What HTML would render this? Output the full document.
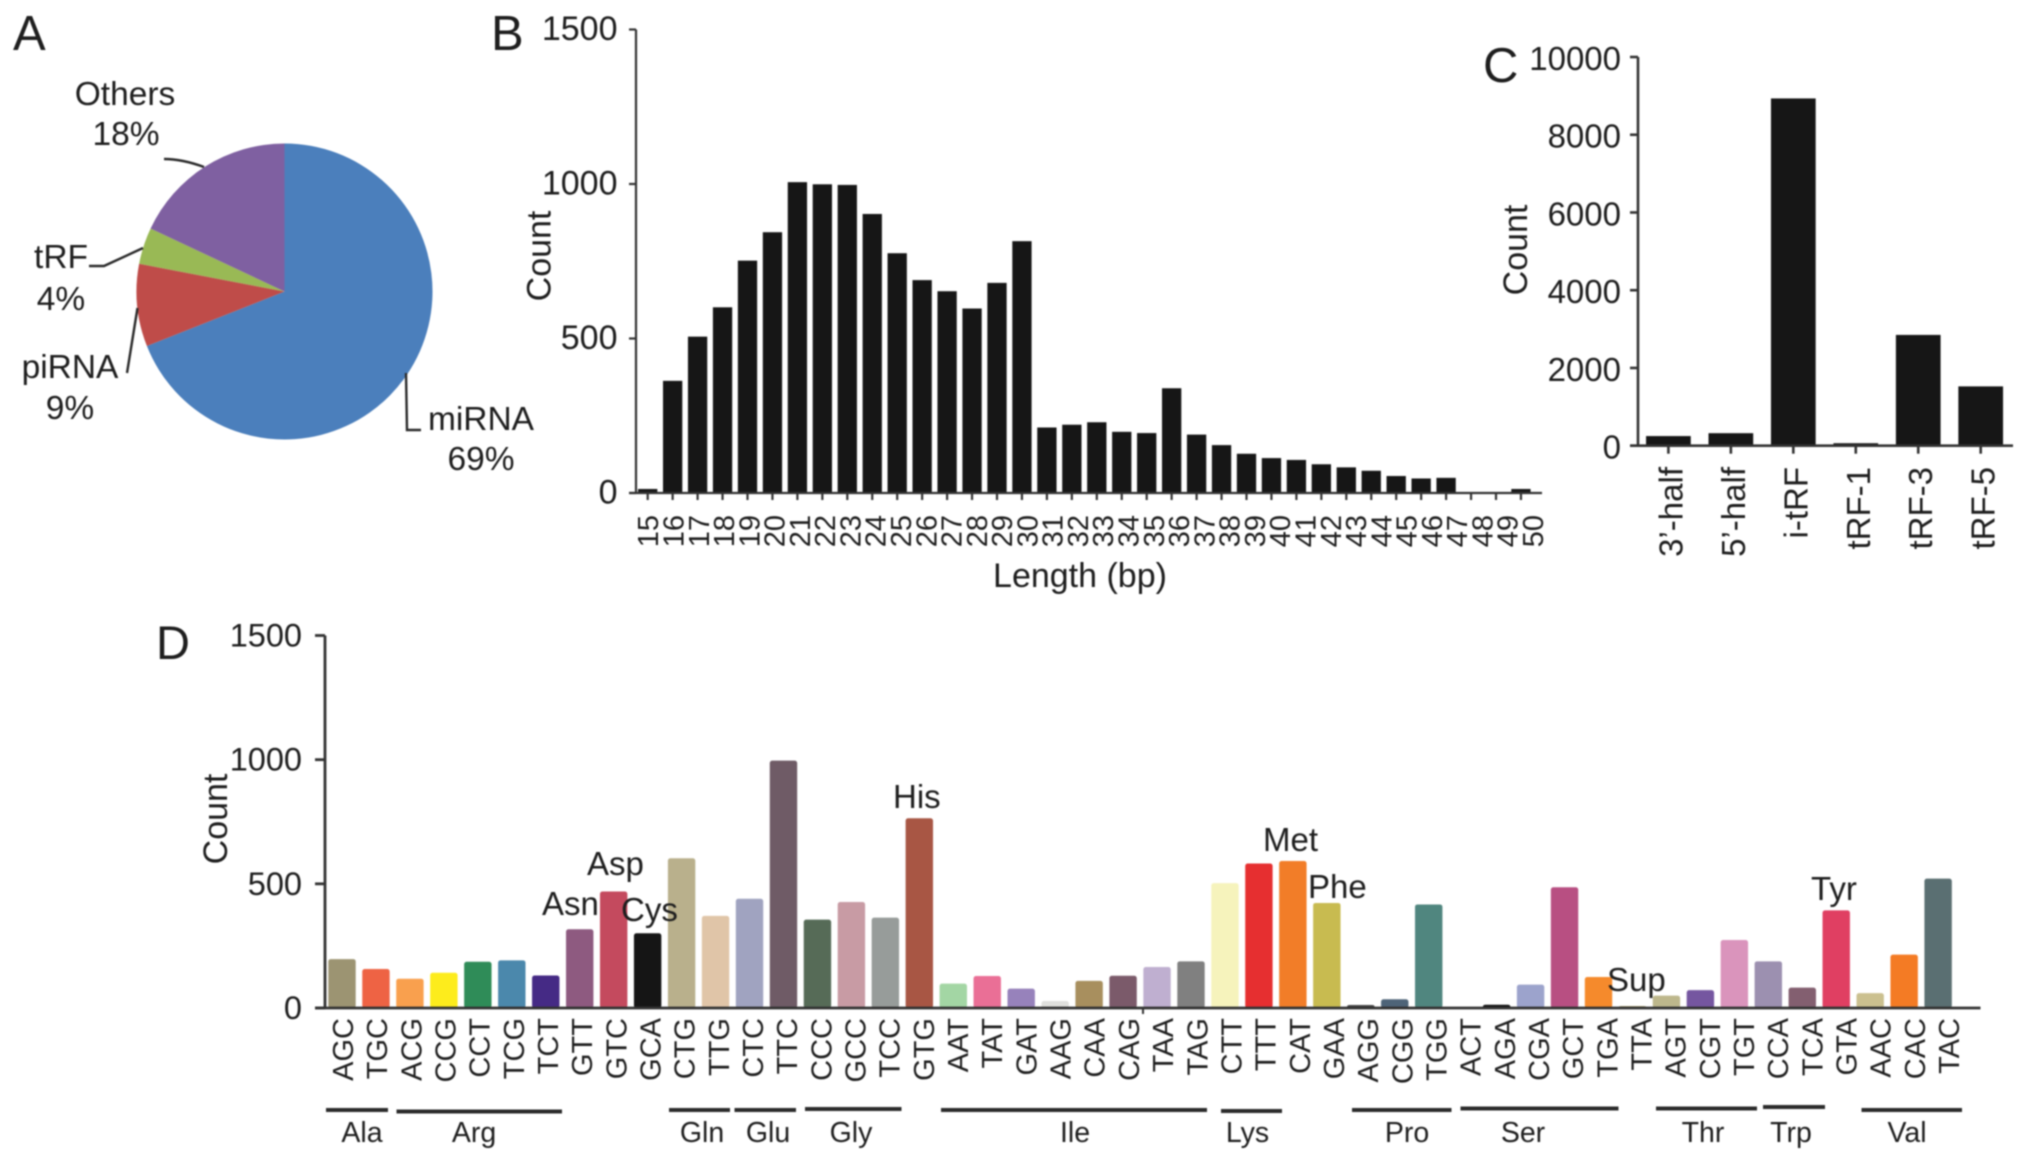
<!DOCTYPE html>
<html lang="en">
<head>
<meta charset="utf-8">
<title>Small RNA and tRF composition charts</title>
<style>
  html, body { margin: 0; padding: 0; background: #fff; }
  body { width: 2032px; height: 1160px; overflow: hidden; }
  #figure { display: block; filter: blur(0.7px); }
  text { font-family: "Liberation Sans", Arial, sans-serif; fill: #1e1e1e; }
  .lead { fill: none; stroke: #2a2a2a; stroke-width: 2.4; }
  .group { stroke: #2b2b2b; stroke-width: 4; }
</style>
</head>
<body>
<svg id="figure" xmlns="http://www.w3.org/2000/svg" width="2032" height="1160" viewBox="0 0 2032 1160">
  <rect x="0" y="0" width="2032" height="1160" fill="#fff"/>

  <text x="13" y="50" font-size="49">A</text>
  <text x="491" y="50" font-size="49">B</text>
  <text x="1483" y="82" font-size="49">C</text>
  <text x="156" y="659" font-size="47">D</text>

  <g id="pie"></g>
  <g font-size="33.5" text-anchor="middle">
    <text x="125" y="105">Others</text>
    <text x="126" y="145">18%</text>
    <text x="61" y="268">tRF</text>
    <text x="61" y="310">4%</text>
    <text x="70" y="378">piRNA</text>
    <text x="70" y="419">9%</text>
    <text x="481" y="430">miRNA</text>
    <text x="481" y="470">69%</text>
  </g>
  <g>
    <path class="lead" d="M164 159 Q182 159 204 167"/>
    <path class="lead" d="M89 266 L104 266 L143 248"/>
    <path class="lead" d="M137.5 308 L127 373"/>
    <path class="lead" d="M406 373 L407 430 L421 430"/>
  </g>

  <g id="chartB"></g>
  <text font-size="34" text-anchor="middle" transform="translate(550.5,256) rotate(-90)">Count</text>
  <text x="1080" y="587" font-size="34" text-anchor="middle">Length (bp)</text>

  <g id="chartC"></g>
  <text font-size="34" text-anchor="middle" transform="translate(1527,250) rotate(-90)">Count</text>

  <g id="chartD"></g>
  <text font-size="34" text-anchor="middle" transform="translate(227,819) rotate(-90)">Count</text>

  <g font-size="33">
    <text x="542" y="915">Asn</text>
    <text x="587" y="875">Asp</text>
    <text x="621" y="921">Cys</text>
    <text x="893" y="808">His</text>
    <text x="1263" y="851">Met</text>
    <text x="1308" y="898">Phe</text>
    <text x="1607" y="991">Sup</text>
    <text x="1811" y="900">Tyr</text>
  </g>

  <g>
    <line class="group" x1="326" x2="388" y1="1110" y2="1110"/>
    <line class="group" x1="396.5" x2="562" y1="1111.5" y2="1111.5"/>
    <line class="group" x1="669" x2="730" y1="1110" y2="1110"/>
    <line class="group" x1="734.5" x2="796" y1="1110" y2="1110"/>
    <line class="group" x1="805" x2="901.5" y1="1109" y2="1109"/>
    <line class="group" x1="941" x2="1207" y1="1110" y2="1110"/>
    <line class="group" x1="1221" x2="1282" y1="1111" y2="1111"/>
    <line class="group" x1="1352" x2="1451.5" y1="1110" y2="1110"/>
    <line class="group" x1="1460.5" x2="1618.5" y1="1108.5" y2="1108.5"/>
    <line class="group" x1="1656" x2="1757" y1="1108.5" y2="1108.5"/>
    <line class="group" x1="1763" x2="1825" y1="1107" y2="1107"/>
    <line class="group" x1="1861.5" x2="1962" y1="1110" y2="1110"/>
  </g>
  <g font-size="28.5" text-anchor="middle">
    <text x="362" y="1142">Ala</text>
    <text x="474" y="1142">Arg</text>
    <text x="702" y="1142">Gln</text>
    <text x="768" y="1142">Glu</text>
    <text x="851" y="1142">Gly</text>
    <text x="1075" y="1142">Ile</text>
    <text x="1247.5" y="1142">Lys</text>
    <text x="1407" y="1142">Pro</text>
    <text x="1523" y="1142">Ser</text>
    <text x="1703" y="1142">Thr</text>
    <text x="1791" y="1142">Trp</text>
    <text x="1907" y="1142">Val</text>
  </g>
</svg>

<script>
// Panel A data
const pieLabels = ['miRNA', 'piRNA', 'tRF', 'Others'];
const pieValues = [69, 9, 4, 18];
const pieColors = ['#4b7fbc', '#bf4c49', '#99b955', '#7f60a1'];

// Panel B data
const lengthCategories = ['15','16','17','18','19','20','21','22','23','24','25','26','27','28','29','30','31','32','33','34','35','36','37','38','39','40','41','42','43','44','45','46','47','48','49','50'];
const lengthValues = [13,363,506,601,752,844,1006,999,997,903,776,689,653,597,680,815,212,221,229,198,194,339,189,155,127,113,107,93,83,72,55,47,49,2,2,13];
const lengthTicks = [0, 500, 1000, 1500];

// Panel C data
const trfCategories = ["3\u2019-half", "5\u2019-half", 'i-tRF', 'tRF-1', 'tRF-3', 'tRF-5'];
const trfValues = [248, 322, 8934, 64, 2850, 1526];
const trfTicks = [0, 2000, 4000, 6000, 8000, 10000];

// Panel D data
const codonCategories = ['AGC','TGC','ACG','CCG','CCT','TCG','TCT','GTT','GTC','GCA','CTG','TTG','CTC','TTC','CCC','GCC','TCC','GTG','AAT','TAT','GAT','AAG','CAA','CAG','TAA','TAG','CTT','TTT','CAT','GAA','AGG','CGG','TGG','ACT','AGA','CGA','GCT','TGA','TTA','AGT','CGT','TGT','CCA','TCA','GTA','AAC','CAC','TAC'];
const codonValues = [197,157,118,142,186,192,131,317,469,301,603,371,440,996,356,427,364,764,98,129,78,28,109,130,165,188,503,582,592,423,12,35,417,3,13,94,486,125,8,50,72,274,188,82,393,60,215,521];
const codonTicks = [0, 500, 1000, 1500];
const codonColors = ['#9c9472','#ee6344','#f9a04e','#fdec1c','#2f8c58','#4b88ac','#452a85','#8e5a80','#c44a5e','#151515','#b9b08c','#e0c5a8','#a0a3c0','#6f5b66','#566b57','#c89ba4','#979c9a','#a85644','#a3d6a4','#ea6f96','#9782bb','#e0e0dd','#a88f5e','#7b5a6a','#bfafd0','#808080','#f6f3bc','#e62f30','#f27d28','#c8bb50','#444444','#4e6478','#50867f','#dddddd','#111111','#9ca3cc','#b84f82','#f58a2c','#b0a878','#bdb78c','#7556a0','#da94bc','#9c90b0','#835f70','#e03f62','#cbc08f','#f47b24','#5a6f72'];

const SVG_NS = 'http://www.w3.org/2000/svg';

function make(parent, tag, geometry, text) {
  const el = document.createElementNS(SVG_NS, tag);
  for (const key in geometry) el.setAttribute(key, geometry[key]);
  if (text !== undefined) el.textContent = text;
  parent.appendChild(el);
  return el;
}

function slug(value) {
  return String(value).toLowerCase().replace(/[^a-z0-9]+/g, '-');
}

// Panel A: angles come from the values
(function drawPie() {
  const group = document.getElementById('pie');
  const cx = 284.5, cy = 291.5, r = 148;
  const total = pieValues.reduce((a, b) => a + b, 0);
  let start = 0;
  pieValues.forEach((value, i) => {
    const sweep = value / total * Math.PI * 2;
    const end = start + sweep;
    const x0 = cx + r * Math.sin(start), y0 = cy - r * Math.cos(start);
    const x1 = cx + r * Math.sin(end), y1 = cy - r * Math.cos(end);
    const large = sweep > Math.PI ? 1 : 0;
    const slice = make(group, 'path', {
      d: `M${cx} ${cy} L${x0} ${y0} A${r} ${r} 0 ${large} 1 ${x1} ${y1} Z`,
      fill: pieColors[i]
    });
    
    
    start = end;
  });
})();

// Panels B, C and D share this bar-chart routine
function drawBars(groupId, prefix, categories, values, ticks, opt) {
  const group = document.getElementById(groupId);
  const maxTick = ticks[ticks.length - 1];
  const xScale = i => opt.x0 + i * opt.step;
  const yScale = v => opt.y0 - v / maxTick * (opt.y0 - opt.yTop);
  const labelScale = i => opt.x0 + i * opt.labelStep;

  values.forEach((value, i) => {
    const top = yScale(value);
    const bar = make(group, 'rect', {
      x: xScale(i) - opt.barWidth / 2,
      y: top,
      width: opt.barWidth,
      height: Math.max(0, opt.y0 - top),
      rx: opt.radius,
      ry: opt.radius,
      fill: opt.colors ? opt.colors[i] : '#161616'
    });
    
    
  });

  const yAxis = make(group, 'line', { x1: opt.axisX, x2: opt.axisX, y1: opt.yTop, y2: opt.y0, stroke: '#333', 'stroke-width': opt.axisWidth });
  
  

  const xAxis = make(group, 'line', { x1: opt.axisX - opt.tickLen, x2: opt.xEnd, y1: opt.y0, y2: opt.y0, stroke: '#333', 'stroke-width': opt.axisWidth });
  
  

  ticks.forEach(tick => {
    const y = yScale(tick);
    const mark = make(group, 'line', { x1: opt.axisX - opt.tickLen, x2: opt.axisX, y1: y, y2: y, stroke: '#333', 'stroke-width': opt.axisWidth });
    
    
    const label = make(group, 'text', { x: opt.yLabelX, y: y + opt.yLabelDy, 'font-size': opt.yFont, 'text-anchor': 'end' }, tick);
    
    
  });

  categories.forEach((category, i) => {
    const x = xScale(i);
    if (opt.xTickLen) {
      const mark = make(group, 'line', { x1: x, x2: x, y1: opt.y0, y2: opt.y0 + opt.xTickLen, stroke: '#333', 'stroke-width': opt.axisWidth });
      
      
    }
    const label = make(group, 'text', {
      'font-size': opt.xFont,
      'text-anchor': 'end',
      transform: `translate(${labelScale(i) + opt.xLabelDx},${opt.xLabelY}) rotate(-90)`
    }, category);
    
    
  });
}

drawBars('chartB', 'length', lengthCategories, lengthValues, lengthTicks, {
  x0: 647.7, step: 24.95, labelStep: 25.28, barWidth: 19.3, radius: 0, y0: 493, yTop: 29.5,
  axisX: 636, xEnd: 1542, tickLen: 7, axisWidth: 2.2, xTickLen: 7,
  yLabelX: 617.5, yLabelDy: 10.5, yFont: 34, xFont: 29, xLabelDx: 10.5, xLabelY: 515
});

drawBars('chartC', 'trf', trfCategories, trfValues, trfTicks, {
  x0: 1668.4, step: 62.46, labelStep: 62.46, barWidth: 44.7, radius: 0, y0: 445.7, yTop: 57,
  axisX: 1638, xEnd: 2013, tickLen: 8, axisWidth: 2.6, xTickLen: 8,
  yLabelX: 1621, yLabelDy: 13, yFont: 33, xFont: 33, xLabelDx: 14, xLabelY: 467
});

drawBars('chartD', 'codon', codonCategories, codonValues, codonTicks, {
  x0: 342, step: 33.96, labelStep: 34.17, barWidth: 27.4, radius: 2.5, y0: 1008, yTop: 635.5, colors: codonColors,
  axisX: 325, xEnd: 1980.5, tickLen: 10, axisWidth: 2.8, xTickLen: 0,
  yLabelX: 302, yLabelDy: 11, yFont: 32.5, xFont: 29, xLabelDx: 11, xLabelY: 1018
});

(function drawStrayTick() {
  const group = document.getElementById('chartD');
  const mark = make(group, 'line', { x1: 1143, x2: 1143, y1: 1008, y2: 1014, stroke: '#333', 'stroke-width': 2 });
  
  
})();
</script>
</body>
</html>
